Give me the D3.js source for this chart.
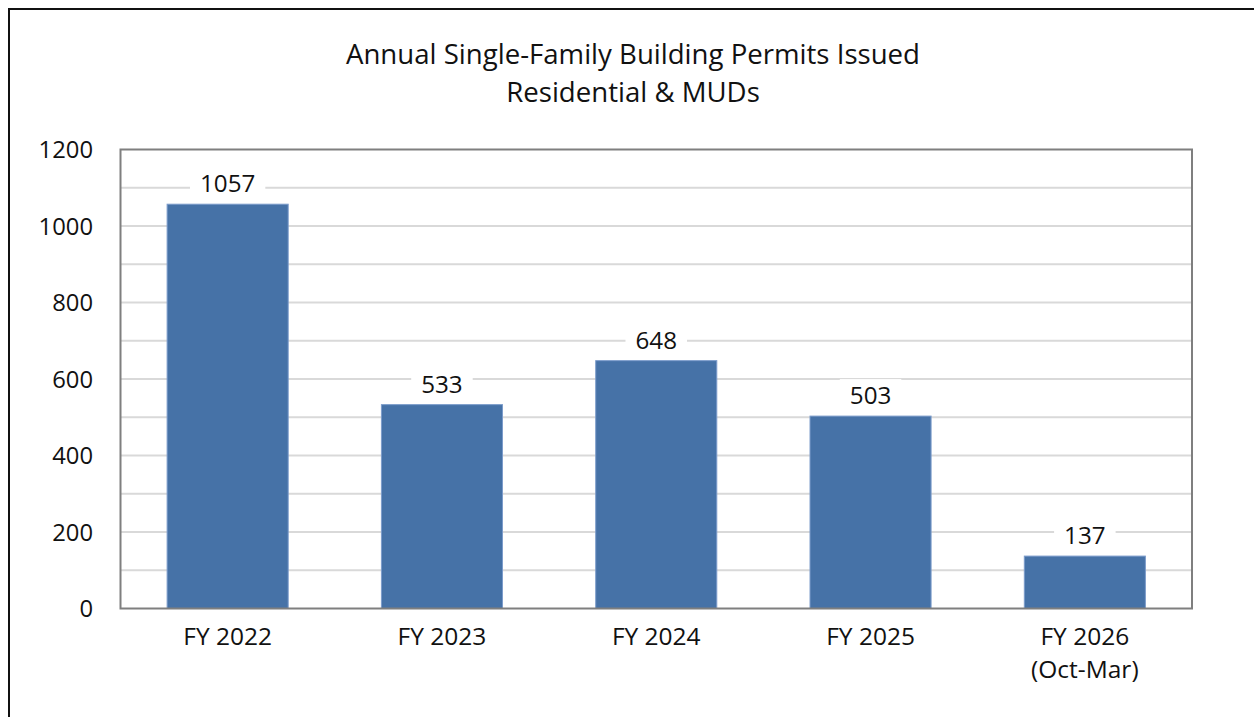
<!DOCTYPE html>
<html>
<head>
<meta charset="utf-8">
<script src="https://cdn.jsdelivr.net/npm/d3@7"></script>
<style>
  body { margin: 0; background: #fff; }
  svg { display: block; font-family: "Open Sans", sans-serif; }
</style>
</head>
<body>
<svg id="chart"></svg>
<script>
const categories = ["FY 2022", "FY 2023", "FY 2024", "FY 2025", "FY 2026|(Oct-Mar)"]
const permits = [1057, 533, 648, 503, 137]
const yTickLabels = [0, 200, 400, 600, 800, 1000, 1200]
const gridValues = d3.range(100, 1200, 100)
const titleLines = ["Annual Single-Family Building Permits Issued", "Residential & MUDs"]

const width = 1254
const height = 717
const plot = { left: 120.5, top: 149.5, right: 1192, bottom: 608.5 }

const svg = d3.select("#chart").attr("width", width).attr("height", height)

// outer frame, runs off the right and bottom edges like the screenshot
svg.append("rect")
  .attr("x", 9).attr("y", 9)
  .attr("width", 1260).attr("height", 730)
  .attr("fill", "white").attr("stroke", "#111").attr("stroke-width", 2)

const x = d3.scaleBand()
  .domain(categories)
  .range([plot.left, plot.right])
  .paddingInner(0.435)
  .paddingOuter(0.2175)

const y = d3.scaleLinear().domain([0, 1200]).range([plot.bottom, plot.top])

/*
  Title
*/
svg.append("text")
  .attr("x", 633)
  .attr("y", 64)
  .attr("text-anchor", "middle")
  .attr("font-size", 27.6)
  .attr("fill", "#111")
  .selectAll("tspan")
  .data(titleLines)
  .enter()
  .append("tspan")
  .attr("x", 633)
  .attr("dy", (d, i) => (i === 0 ? 0 : 38))
  .text((d) => d)

/*
  Gridlines
*/
svg.append("g")
  .selectAll("line")
  .data(gridValues)
  .enter()
  .append("line")
  .attr("x1", plot.left).attr("x2", plot.right)
  .attr("y1", (d) => y(d)).attr("y2", (d) => y(d))
  .attr("stroke", "#d9d9d9").attr("stroke-width", 2)

/*
  Bars
*/
svg.append("g")
  .selectAll("rect")
  .data(permits)
  .enter()
  .append("rect")
  .attr("x", (d, i) => x(categories[i]))
  .attr("y", (d) => y(d))
  .attr("width", x.bandwidth())
  .attr("height", (d) => y(0) - y(d))
  .attr("fill", "#4672a7")
  .attr("stroke", "#7c9ccb")
  .attr("stroke-width", 1)

// plot frame
svg.append("rect")
  .attr("x", plot.left).attr("y", plot.top)
  .attr("width", plot.right - plot.left).attr("height", plot.bottom - plot.top)
  .attr("fill", "none").attr("stroke", "#7f7f7f").attr("stroke-width", 2)

/*
  Data labels with white boxes over the gridlines
*/
const labels = svg.append("g")
  .selectAll("g")
  .data(permits)
  .enter()
  .append("g")
  .attr("transform", (d, i) =>
    "translate(" + (x(categories[i]) + x.bandwidth() / 2) + "," + (y(d) - 12) + ")")

labels.each(function (d) {
  const g = d3.select(this)
  const t = g.append("text")
    .attr("text-anchor", "middle")
    .attr("font-size", 24.2)
    .attr("fill", "#111")
    .text(d)
  const w = t.node().getComputedTextLength()
  g.insert("rect", "text")
    .attr("x", -w / 2 - 10).attr("y", -25)
    .attr("width", w + 20).attr("height", 31)
    .attr("fill", "white")
})

/*
  Y axis labels
*/
svg.append("g")
  .selectAll("text")
  .data(yTickLabels)
  .enter()
  .append("text")
  .attr("x", 93)
  .attr("y", (d) => y(d) + 8.5)
  .attr("text-anchor", "end")
  .attr("font-size", 23.8)
  .attr("fill", "#111")
  .text((d) => d)

/*
  X axis labels
*/
svg.append("g")
  .selectAll("text")
  .data(categories)
  .enter()
  .append("text")
  .attr("text-anchor", "middle")
  .attr("font-size", 24.5)
  .attr("fill", "#111")
  .attr("y", 645)
  .each(function (d) {
    const cx = x(d) + x.bandwidth() / 2
    d3.select(this)
      .selectAll("tspan")
      .data(d.split("|"))
      .enter()
      .append("tspan")
      .attr("x", cx)
      .attr("dy", (s, i) => (i === 0 ? 0 : 33))
      .text((s) => s)
  })
</script>
</body>
</html>
